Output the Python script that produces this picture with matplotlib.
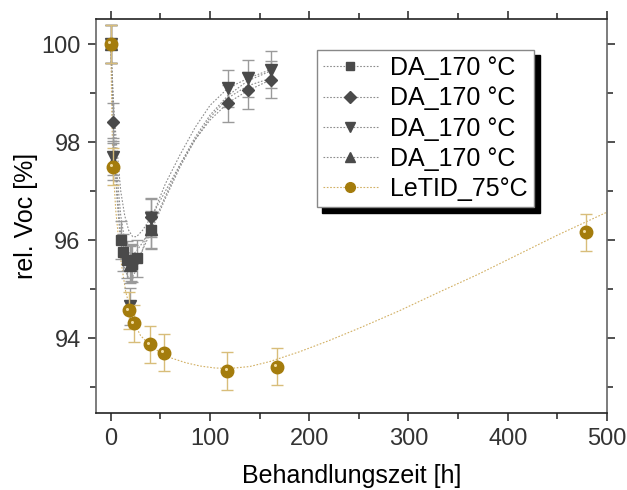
import matplotlib
matplotlib.use("Agg")
import matplotlib.pyplot as plt
from matplotlib.lines import Line2D
from matplotlib.transforms import ScaledTranslation

plt.rcParams['font.family'] = ['Liberation Sans', 'DejaVu Sans']

# --- measured data: relative Voc vs. treatment time ---
sq_x = [0, 10, 12, 16, 21, 26, 41]
sq_y = [100.0, 96.0, 95.75, 95.6, 95.52, 95.63, 96.2]

dia_x = [0, 2, 20, 41, 118, 138, 161]
dia_y = [100.0, 98.41, 95.55, 96.48, 98.79, 99.06, 99.27]

dn_x = [0, 2, 19, 41, 118, 138, 161]
dn_y = [100.0, 97.70, 94.65, 96.45, 99.10, 99.30, 99.48]

up_x = [0, 2, 19, 41]
up_y = [100.0, 97.6, 95.5, 96.22]

da_err = 0.38

letid_x = [0, 2, 18, 23.5, 39.5, 53.5, 117.5, 167, 479]
letid_y = [100.0, 97.5, 94.57, 94.3, 93.87, 93.7, 93.33, 93.42, 96.16]
letid_err = 0.38

# --- fitted trend curves ---
fit_x = [0, 3, 6, 10, 14, 18, 22, 26, 32, 41, 55, 70, 85, 100, 118, 138, 161]
fit_sq = [100, 98.3, 97.1, 96.1, 95.65, 95.47, 95.45, 95.55, 95.8, 96.2,
          96.85, 97.5, 98.05, 98.5, 98.9, 99.15, 99.3]
fit_up = [100, 98.5, 97.4, 96.5, 96.0, 95.75, 95.7, 95.78, 95.95, 96.25,
          96.9, 97.55, 98.1, 98.55, 98.95, 99.25, 99.45]
fit_dia = [100, 98.7, 97.9, 97.0, 96.5, 96.2, 96.07, 96.07, 96.2, 96.48,
           97.0, 97.55, 98.05, 98.45, 98.8, 99.05, 99.27]
fit_dn = [100, 97.9, 96.9, 95.9, 95.4, 95.22, 95.25, 95.4, 95.8, 96.45,
          97.15, 97.75, 98.3, 98.75, 99.1, 99.3, 99.48]

letid_fit_x = [0, 1, 2, 5, 10, 15, 20, 25, 30, 40, 50, 60, 75, 90, 105, 120,
               140, 160, 190, 220, 250, 290, 330, 370, 410, 450, 500]
letid_fit_y = [100, 98.6, 97.6, 96.6, 95.6, 94.95, 94.55, 94.25, 94.05, 93.85,
               93.7, 93.6, 93.5, 93.43, 93.39, 93.38, 93.42, 93.52, 93.72,
               93.95, 94.2, 94.55, 94.93, 95.3, 95.7, 96.1, 96.57]

labels = ["DA_170 °C", "DA_170 °C", "DA_170 °C", "DA_170 °C", "LeTID_75°C"]

da_col = '#4a4a4a'
da_err_col = '#9a9a9a'
da_line_col = '#8c8c8c'
gold = '#a47c0c'
gold_err = '#d8bd7a'
gold_line = '#d2b064'

fig = plt.figure(figsize=(6.27, 4.90), dpi=100)
ax = fig.add_axes([0.153, 0.157, 0.815, 0.804])

# trend curves
for fy in (fit_sq, fit_dia, fit_dn, fit_up):
    ax.plot(fit_x, fy, ls=(0, (1.5, 1.5)), lw=0.8, color=da_line_col, zorder=2)
ax.plot(letid_fit_x, letid_fit_y, ls=(0, (1.5, 1.5)), lw=0.8, color=gold_line, zorder=2)

# DA series
series = [(sq_x, sq_y, 's', 7), (dia_x, dia_y, 'D', 6.5),
          (dn_x, dn_y, 'v', 8), (up_x, up_y, '^', 8)]
for xs, ys, mk, ms in series:
    ax.errorbar(xs, ys, yerr=da_err, fmt=mk, ms=ms, color=da_col, mec=da_col,
                ecolor=da_err_col, elinewidth=1.0, capsize=4, capthick=1.0, zorder=3)

# LeTID series with sphere-like markers (small highlight up-left)
ax.errorbar(letid_x, letid_y, yerr=letid_err, fmt='o', ms=9, color=gold, mec=gold,
            ecolor=gold_err, elinewidth=1.0, capsize=4, capthick=1.0, zorder=4)
hl = ax.transData + ScaledTranslation(-1.2 / 72, 1.2 / 72, fig.dpi_scale_trans)
ax.plot(letid_x, letid_y, 'o', ms=2.2, color='#f0dca0', mec='none', zorder=5,
        transform=hl)

ax.set_xlim(-15, 500)
ax.set_ylim(92.47, 100.51)
ax.set_xticks([0, 100, 200, 300, 400, 500])
ax.set_xticks([50, 150, 250, 350, 450], minor=True)
ax.set_yticks([94, 96, 98, 100])
ax.set_yticks([93, 95, 97, 99], minor=True)

ax.tick_params(which='both', direction='out', top=True, right=True,
               labeltop=False, labelright=False, labelsize=17,
               labelcolor='#333333', width=1.2, color='#333333')
ax.tick_params(which='major', length=6, pad=5)
ax.tick_params(which='minor', length=4)

for side in ('left', 'right'):
    ax.spines[side].set_color('#666666')
for side in ('top', 'bottom'):
    ax.spines[side].set_color('#222222')
for s in ax.spines.values():
    s.set_linewidth(1.2)

ax.set_xlabel("Behandlungszeit [h]", fontsize=18, labelpad=10)
ax.set_ylabel("rel. Voc [%]", fontsize=18)
ax.yaxis.set_label_coords(-0.113, 0.50)

handles = [
    Line2D([], [], ls=(0, (1.5, 1.5)), lw=0.8, color=da_line_col, marker='s', ms=6, mfc=da_col, mec=da_col),
    Line2D([], [], ls=(0, (1.5, 1.5)), lw=0.8, color=da_line_col, marker='D', ms=6, mfc=da_col, mec=da_col),
    Line2D([], [], ls=(0, (1.5, 1.5)), lw=0.8, color=da_line_col, marker='v', ms=7, mfc=da_col, mec=da_col),
    Line2D([], [], ls=(0, (1.5, 1.5)), lw=0.8, color=da_line_col, marker='^', ms=7, mfc=da_col, mec=da_col),
    Line2D([], [], ls=(0, (1.5, 1.5)), lw=0.8, color=gold_line, marker='o', ms=7, mfc=gold, mec=gold),
]
leg = ax.legend(handles, labels, loc='upper left', bbox_to_anchor=(0.432, 0.922),
                fontsize=18, frameon=True, fancybox=False, framealpha=1,
                edgecolor='#888888', labelspacing=0.25, handlelength=2.2,
                handletextpad=0.5, borderpad=0.25, borderaxespad=0,
                shadow={'color': 'black', 'alpha': 1, 'ox': 4, 'oy': -4})
leg.get_frame().set_linewidth(1.0)

fig.savefig("out.png", dpi=100)
